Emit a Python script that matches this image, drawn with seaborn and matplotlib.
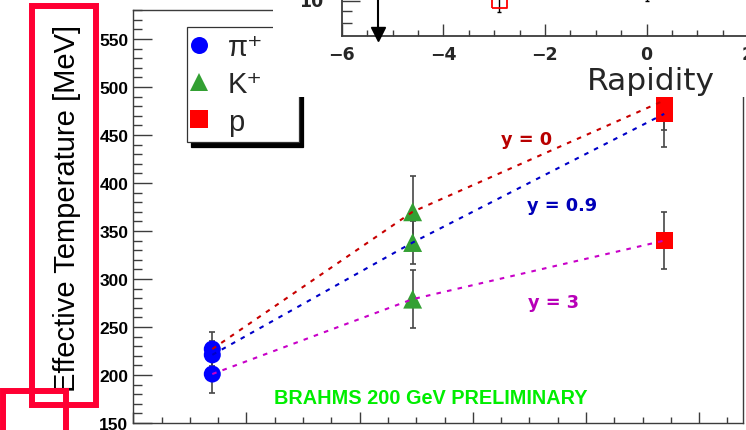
import numpy as np
import pandas as pd
import matplotlib
matplotlib.use("Agg")
import matplotlib.pyplot as plt
import seaborn as sns
from matplotlib.patches import Rectangle
from matplotlib.ticker import MultipleLocator, FixedLocator, FixedFormatter, NullFormatter

# ---------------- data ----------------
particles = ["π⁺", "K⁺", "p"]
mass_gev = [0.1396, 0.4937, 0.9383]
rapidity_labels = ["y = 0", "y = 0.9", "y = 3"]
temp_y0 = [227, 370, 486]
err_y0 = [18, 37, 49]
temp_y09 = [221, 338, 472]
err_y09 = [14, 22, 17]
temp_y3 = [201, 279, 340]
err_y3 = [20, 30, 30]

# partly visible inset panel (rapidity)
inset_rapidity = [-2.9, 0.0]
inset_value = [10.0, 12.5]
inset_err = [1.1, 2.5]
beam_rapidity = -5.29
inset_xticks = [-6, -4, -2, 0, 2]
inset_yticks = [10]
inset_ytick_labels = ["10"]
inset_yminor = [8, 9]

main_text = "BRAHMS 200 GeV PRELIMINARY"

# ---------------- styling ----------------
sns.set_theme(style="white")
plt.rcParams["font.family"] = ["Liberation Sans", "DejaVu Sans"]
plt.rcParams["axes.unicode_minus"] = True

W, H, DPI = 746, 431, 100
fig = plt.figure(figsize=(W / DPI, H / DPI), dpi=DPI, facecolor="white")


def fx(px):
    return px / W


def fy(py):
    return 1 - py / H


line_colors = ["#c80000", "#0000c8", "#c800c8"]
text_colors = ["#b80000", "#0000b8", "#b800b8"]
marker_colors = {"π⁺": "#0000ff", "K⁺": "#33a033", "p": "#ff0000"}
marker_shapes = {"π⁺": "o", "K⁺": "^", "p": "s"}
marker_sizes = {"π⁺": 150, "K⁺": 185, "p": 150}
spine_col = "#3c3c3c"

# ---------------- main axes ----------------
ax = fig.add_axes([fx(133.3), fy(424), fx(742.7) - fx(133.3), fy(11.2) - fy(424)])
ax.set_facecolor("white")

series = {
    rapidity_labels[0]: (temp_y0, err_y0),
    rapidity_labels[1]: (temp_y09, err_y09),
    rapidity_labels[2]: (temp_y3, err_y3),
}
rows = []
for r, (tv, ev) in series.items():
    for p, m, t, e in zip(particles, mass_gev, tv, ev):
        rows.append(dict(rapidity=r, particle=p, mass=m, T=t, err=e))
df = pd.DataFrame(rows)

for r, g in df.groupby("rapidity", sort=False):
    ax.errorbar(g["mass"], g["T"], yerr=g["err"], fmt="none", ecolor="#474747",
                elinewidth=1.2, capsize=2.2, capthick=1.2, zorder=2)

sns.scatterplot(data=df, x="mass", y="T", hue="particle", style="particle", size="particle",
                palette=marker_colors, markers=marker_shapes, sizes=marker_sizes,
                hue_order=particles, style_order=particles, size_order=particles,
                edgecolor="none", linewidth=0, ax=ax, zorder=3)

sns.lineplot(data=df, x="mass", y="T", hue="rapidity", hue_order=rapidity_labels,
             palette=dict(zip(rapidity_labels, line_colors)), sort=False, estimator=None,
             errorbar=None, legend=False, linewidth=1.5, linestyle=(0, (2.2, 3.0)),
             ax=ax, zorder=4)

ax.set_xlim(0, 1.077)
ax.set_ylim(150, 580)
ax.xaxis.set_major_locator(MultipleLocator(0.2))
ax.xaxis.set_minor_locator(MultipleLocator(0.05))
ax.yaxis.set_major_locator(MultipleLocator(50))
ax.yaxis.set_minor_locator(MultipleLocator(10))
ax.tick_params(axis="both", which="both", bottom=True, left=True, top=False, right=False)
ax.tick_params(axis="x", which="both", labelbottom=False)
ax.tick_params(axis="x", which="major", direction="in", length=7.9, width=1.0, color=spine_col)
ax.tick_params(axis="x", which="minor", direction="in", length=4.3, width=1.0, color=spine_col)
ax.tick_params(axis="y", which="major", direction="in", length=13.7, width=1.0, color=spine_col, pad=3.6)
ax.tick_params(axis="y", which="minor", direction="in", length=6.5, width=1.0, color=spine_col)
for lab in ax.get_yticklabels():
    lab.set_fontweight("bold")
    lab.set_fontsize(12.5)
    lab.set_color("black")
ax.set_xlabel("")
for s in ax.spines.values():
    s.set_color(spine_col)
    s.set_linewidth(1.0)
    s.set_visible(True)

ax.set_ylabel("Effective Temperature [MeV]", fontsize=21, color="black")
ax.yaxis.set_label_coords((81 - 133.3) / (742.7 - 133.3), (424 - 208) / (424 - 11.2))

# curve labels
label_pos = [(0.649, 440.6), (0.696, 371.6), (0.698, 270.5)]
for lbl, col, (lx, ly) in zip(rapidity_labels, text_colors, label_pos):
    ax.text(lx, ly, lbl, color=col, fontsize=12.8, fontweight="bold",
            family=["DejaVu Sans"], ha="left", va="baseline", zorder=5)

ax.text(0.2487, 170.5, main_text, color="#00ee00", fontsize=14.3, fontweight="bold",
        ha="left", va="baseline", zorder=5)

# legend
old = ax.get_legend()
handles = old.legend_handles
labels = [t.get_text() for t in old.get_texts()]
old.remove()
leg = ax.legend(handles, labels, loc="upper left",
                bbox_to_anchor=(fx(186.7), fy(27.5), fx(298.5) - fx(186.7), 0.0),
                bbox_transform=fig.transFigure, mode="expand", borderaxespad=0,
                fontsize=21, borderpad=0.22, labelspacing=0.32, handlelength=0.4,
                handletextpad=0.8, frameon=True, fancybox=False, framealpha=1,
                shadow={"ox": 3.4, "oy": -3.6, "color": "black", "alpha": 1})
leg.get_frame().set_edgecolor("#333333")
leg.get_frame().set_linewidth(0.9)
leg.get_frame().set_facecolor("white")

# ---------------- inset pad (white) ----------------
fig.add_artist(Rectangle((fx(273), fy(98)), 1 - fx(273) + 0.05, 98 / H + 0.05,
                         transform=fig.transFigure, facecolor="white", edgecolor="none", zorder=1))

in_w_px = 8.5 * 50.8
in_h_px = 100.0
ax_in = fig.add_axes([fx(341.7), fy(37.3), in_w_px / W, in_h_px / H])
ax_in.set_zorder(2)
ax_in.set_facecolor("none")
ax_in.set_xlim(-6, 2.5)
ax_in.set_yscale("log")
ax_in.set_ylim(7, 7 * 10 ** (in_h_px / 229.8))

ax_in.errorbar(inset_rapidity, inset_value, yerr=inset_err, fmt="none", ecolor="black",
               elinewidth=1.0, capsize=1.3, capthick=1.0, zorder=2)
df_in = pd.DataFrame({"rapidity": inset_rapidity, "value": inset_value})
sns.scatterplot(data=df_in, x="rapidity", y="value", marker="s", s=118,
                facecolor="none", edgecolor="red", linewidth=1.3, ax=ax_in, zorder=3,
                legend=False)

# beam-rapidity arrow
tr = ax_in.get_xaxis_transform()
ax_in.plot([beam_rapidity, beam_rapidity], [1.2, (37.3 - 35.2) / in_h_px], color="black",
           lw=1.5, transform=tr, clip_on=False, zorder=4)
ax_in.plot([beam_rapidity], [(37.3 - 35.2) / in_h_px], marker="v", ms=9.4, color="black",
           transform=tr, clip_on=False, zorder=4)

ax_in.xaxis.set_major_locator(FixedLocator(inset_xticks))
ax_in.xaxis.set_minor_locator(MultipleLocator(0.5))
ax_in.yaxis.set_major_locator(FixedLocator(inset_yticks))
ax_in.yaxis.set_major_formatter(FixedFormatter(inset_ytick_labels))
ax_in.yaxis.set_minor_locator(FixedLocator(inset_yminor))
ax_in.yaxis.set_minor_formatter(NullFormatter())
ax_in.tick_params(axis="both", which="both", bottom=True, left=True, top=False, right=False)
ax_in.tick_params(axis="x", which="major", direction="in", length=8.6, width=1.0, color=spine_col, pad=6)
ax_in.tick_params(axis="x", which="minor", direction="in", length=4.0, width=1.0, color=spine_col)
ax_in.tick_params(axis="y", which="major", direction="in", length=13, width=1.0, color=spine_col, pad=13)
ax_in.tick_params(axis="y", which="minor", direction="in", length=7.2, width=1.0, color=spine_col)
for lab in ax_in.get_xticklabels() + ax_in.get_yticklabels():
    lab.set_fontweight("bold")
    lab.set_fontsize(12.5)
    lab.set_family(["DejaVu Sans"])
for lab in ax_in.get_yticklabels():
    lab.set_verticalalignment("center")
ax_in.spines["top"].set_visible(False)
ax_in.spines["right"].set_visible(False)
for k in ("left", "bottom"):
    ax_in.spines[k].set_color(spine_col)
    ax_in.spines[k].set_linewidth(1.3)
ax_in.set_ylabel("")
ax_in.set_xlabel("Rapidity", fontsize=22.5, family=["DejaVu Sans"], ha="right", va="top")
ax_in.xaxis.set_label_coords((715 - 341.7) / in_w_px, (37.3 - 67) / in_h_px)

# ---------------- red highlight frames ----------------
red = "#ff0033"
for (x0, y0, x1, y1) in [(32, 7, 96, 405.7), (3, 391.5, 66, 480)]:
    fig.add_artist(Rectangle((fx(x0), fy(y1)), fx(x1) - fx(x0), fy(y0) - fy(y1),
                             transform=fig.transFigure, facecolor="none", edgecolor=red,
                             linewidth=4.3, zorder=10, clip_on=False))

fig.savefig("out.png", dpi=DPI, facecolor="white")
